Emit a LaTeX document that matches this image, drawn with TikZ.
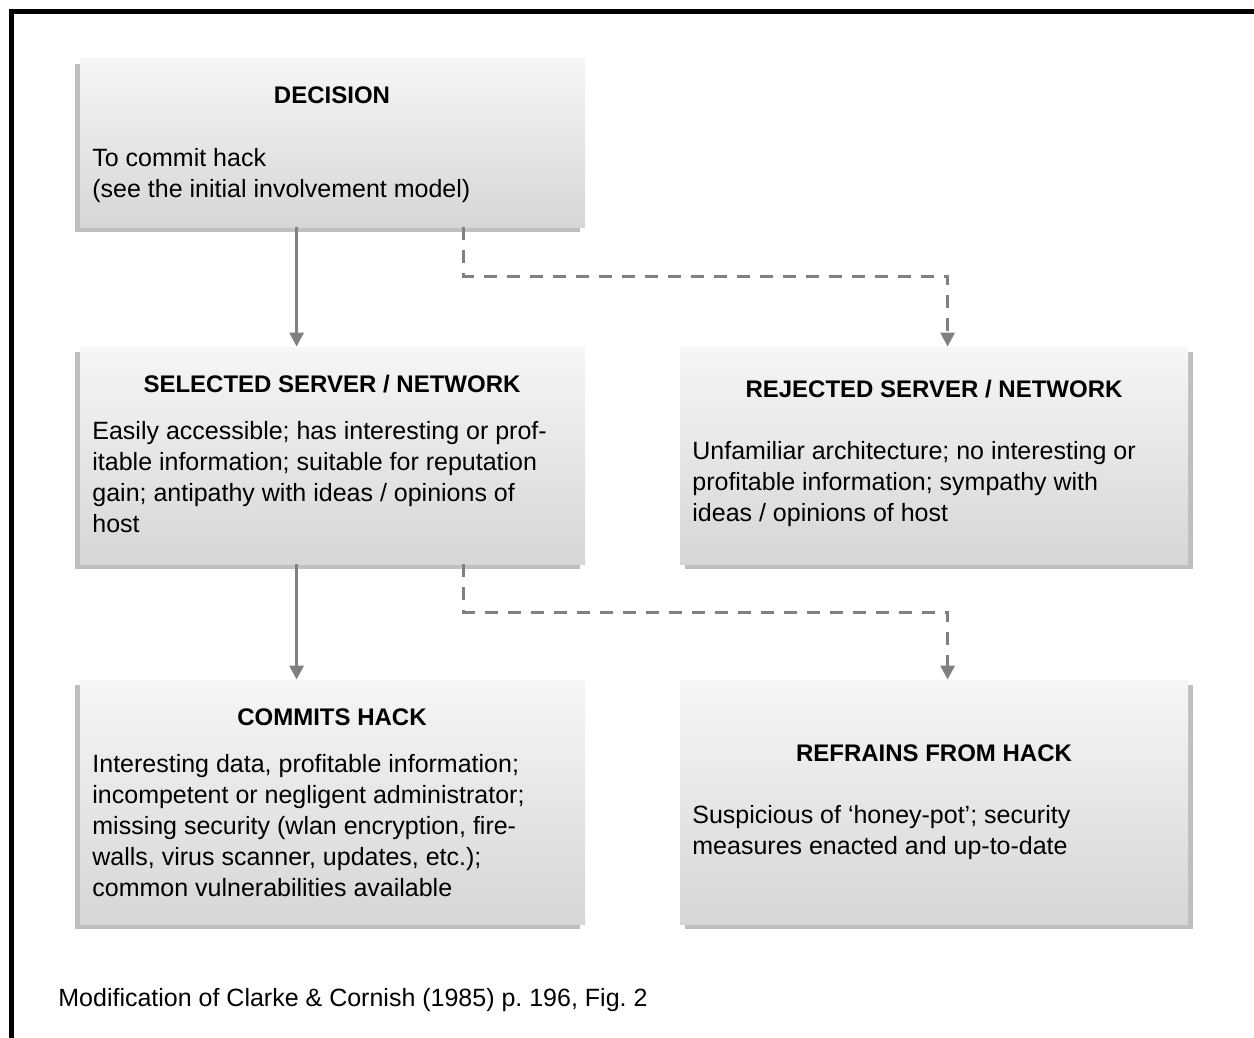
\documentclass[tikz,border=0pt]{standalone}
\usepackage{fontspec}
\setmainfont{Liberation Sans}
\usetikzlibrary{arrows.meta,fit,shadows}
\definecolor{arrowgray}{HTML}{808080}
\definecolor{shadowgray}{HTML}{BFBFBF}
\definecolor{topgray}{HTML}{F6F6F6}
\definecolor{botgray}{HTML}{D6D6D6}
\frenchspacing
\begin{document}
\begin{tikzpicture}[x=0.5pt,y=-0.5pt,
  boxbase/.style={draw=none, inner sep=0pt, top color=topgray, bottom color=botgray},
  boxL/.style={boxbase, general shadow={fill=shadowgray, shadow xshift=-2.5pt, shadow yshift=-2.5pt}},
  boxR/.style={boxbase, general shadow={fill=shadowgray, shadow xshift=2.5pt, shadow yshift=-2.5pt}},
  titletext/.style={inner sep=0pt, anchor=base, font=\fontsize{12}{14}\selectfont\bfseries},
  bodytext/.style={inner sep=0pt, anchor=north west, align=left, font=\fontsize{12.5}{15.5}\selectfont\frenchspacing},
  conn/.style={draw=arrowgray, line width=1.5pt, -{Triangle[length=7pt,width=7pt]}},
  dconn/.style={conn, dash pattern=on 6.5pt off 5pt}
]
\useasboundingbox (0,0) rectangle (1254,1038);
% outer frame
\draw[line width=2.5pt, line cap=rect] (11,1050) -- (11,12) -- (1260,12);

% boxes
\node[boxL, fit={(80,59) (585,227)}] (D) {};
\node[boxL, fit={(80,347) (585,564)}] (S) {};
\node[boxR, fit={(680,347) (1188,564)}] (R) {};
\node[boxL, fit={(80,680) (585,924)}] (C) {};
\node[boxR, fit={(680,680) (1188,924)}] (F) {};

% texts
\node[titletext] (Dt) at (332,104) {DECISION};
\node[bodytext] (Db) at (92,144) {\strut To commit hack\\(see the initial involvement model)};

\node[titletext] (St) at (332,392) {SELECTED SERVER / NETWORK};
\node[bodytext] (Sb) at (92,417) {\strut Easily accessible; has interesting or prof-\\itable information; suitable for reputation\\gain; antipathy with ideas / opinions of\\host};

\node[titletext] (Rt) at (934,397) {REJECTED SERVER / NETWORK};
\node[bodytext] (Rb) at (692,437) {\strut Unfamiliar architecture; no interesting or\\profitable information; sympathy with\\ideas / opinions of host};

\node[titletext] (Ct) at (332,725) {COMMITS HACK};
\node[bodytext] (Cb) at (92,750) {\strut Interesting data, profitable information;\\incompetent or negligent administrator;\\missing security (wlan encryption, fire-\\walls, virus scanner, updates, etc.);\\common vulnerabilities available};

\node[titletext] (Ft) at (934,761) {REFRAINS FROM HACK};
\node[bodytext] (Fb) at (692,801) {\strut Suspicious of ‘honey-pot’; security\\measures enacted and up-to-date};

\node[inner sep=0pt, anchor=base west, font=\fontsize{12.5}{15.5}\selectfont\frenchspacing] (cap) at (58,1006) {Modification of Clarke \& Cornish (1985) p. 196, Fig. 2};

% connectors
\draw[conn] ([xshift=108.5pt]D.south west) -- ([xshift=108.5pt]S.north west);
\draw[dconn] ([xshift=192pt]D.south west) -- ++(0,49) -| ([xshift=134pt]R.north west);
\draw[conn] ([xshift=108.5pt]S.south west) -- ([xshift=108.5pt]C.north west);
\draw[dconn] ([xshift=192pt]S.south west) -- ++(0,48) -| ([xshift=134pt]F.north west);
\end{tikzpicture}
\end{document}
